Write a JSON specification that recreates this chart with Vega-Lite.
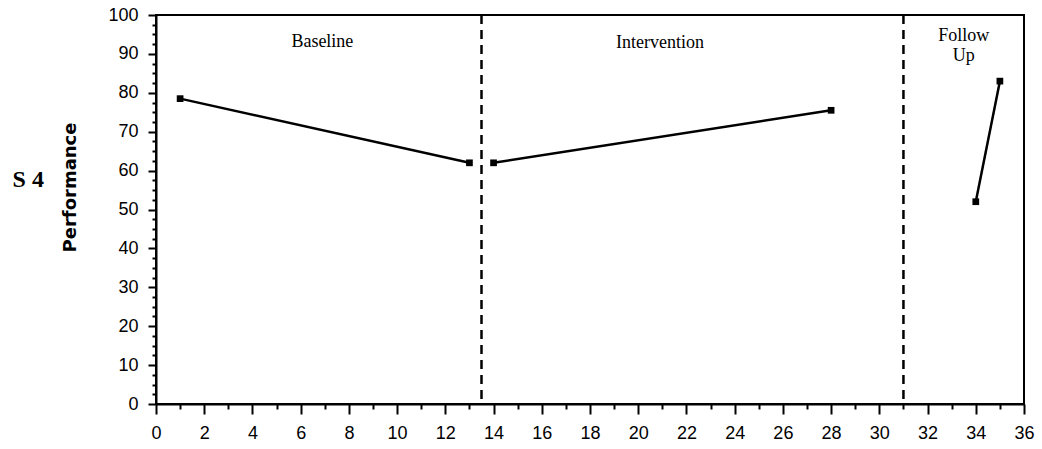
{
  "$schema": "https://vega.github.io/schema/vega-lite/v6.json",
  "width": 868,
  "height": 389,
  "autosize": {"type": "none"},
  "padding": {"left": 156, "top": 15, "right": 18, "bottom": 45},
  "background": "white",
  "config": {
    "view": {"stroke": "black", "strokeWidth": 2},
    "axis": {"domainColor": "black", "domainWidth": 2, "tickColor": "black", "tickWidth": 2, "grid": false, "labelColor": "black", "labelFont": "Liberation Sans", "labelFontSize": 18, "labelOverlap": false}
  },
  "datasets": {
    "pts": [
      {"session": 1, "performance": 78.5, "phase": "Baseline"},
      {"session": 13, "performance": 62, "phase": "Baseline"},
      {"session": 14, "performance": 62, "phase": "Intervention"},
      {"session": 28, "performance": 75.5, "phase": "Intervention"},
      {"session": 34, "performance": 52, "phase": "Follow Up"},
      {"session": 35, "performance": 83, "phase": "Follow Up"}
    ],
    "phaseLines": [{"session": 13.5}, {"session": 31}],
    "labels": [
      {"session": 6.9, "performance": 93, "text": "Baseline"},
      {"session": 20.9, "performance": 92.8, "text": "Intervention"},
      {"session": 33.5, "performance": 94.5, "text": "Follow"},
      {"session": 33.5, "performance": 89.5, "text": "Up"}
    ],
    "subject": [{"session": -5.3, "performance": 57.5, "text": "S 4"}]
  },
  "encoding": {
    "x": {"field": "session", "type": "quantitative", "scale": {"domain": [0, 36], "nice": false},
      "axis": {"title": null, "labelOverlap": false, "values": [0,1,2,3,4,5,6,7,8,9,10,11,12,13,14,15,16,17,18,19,20,21,22,23,24,25,26,27,28,29,30,31,32,33,34,35,36],
        "labelExpr": "datum.value % 2 == 0 ? datum.label : ''",
        "tickSize": {"condition": {"test": "datum.value % 2 == 0", "value": 10}, "value": 5},
        "labelPadding": 10, "labelFlush": false}}
  },
  "layer": [
    {
      "data": {"name": "phaseLines"},
      "mark": {"type": "rule", "color": "black", "strokeWidth": 2.5, "strokeDash": [9, 6]},
      "encoding": {}
    },
    {
      "layer": [
        {
          "data": {"name": "pts"},
          "mark": {"type": "line", "color": "black", "strokeWidth": 2.5},
          "encoding": {"detail": {"field": "phase", "type": "nominal"}}
        },
        {
          "data": {"name": "pts"},
          "mark": {"type": "square", "color": "black", "filled": true, "opacity": 1, "size": 45}
        },
        {
          "data": {"name": "labels"},
          "mark": {"type": "text", "font": "Liberation Serif", "fontSize": 18, "color": "black"},
          "encoding": {"text": {"field": "text"}}
        },
        {
          "data": {"name": "subject"},
          "mark": {"type": "text", "font": "Liberation Serif", "fontSize": 24, "fontWeight": "bold", "color": "black", "clip": false},
          "encoding": {"text": {"field": "text"}}
        }
      ],
      "encoding": {
        "y": {"field": "performance", "type": "quantitative", "scale": {"domain": [0, 100], "nice": false},
          "axis": {"title": "Performance", "titleFont": "DejaVu Sans", "titleFontSize": 18, "titleFontWeight": "bold", "titleColor": "black",
            "titleX": -86, "titleY": 172, "titleAngle": -90, "titleAlign": "center", "titleBaseline": "middle",
            "labelOverlap": false,
            "values": [0,2.5,5,7.5,10,12.5,15,17.5,20,22.5,25,27.5,30,32.5,35,37.5,40,42.5,45,47.5,50,52.5,55,57.5,60,62.5,65,67.5,70,72.5,75,77.5,80,82.5,85,87.5,90,92.5,95,97.5,100],
            "labelExpr": "datum.value % 10 == 0 ? datum.label : ''",
            "tickSize": {"condition": {"test": "datum.value % 10 == 0", "value": 8}, "value": 4},
            "labelPadding": 10}}
      }
    }
  ]
}
